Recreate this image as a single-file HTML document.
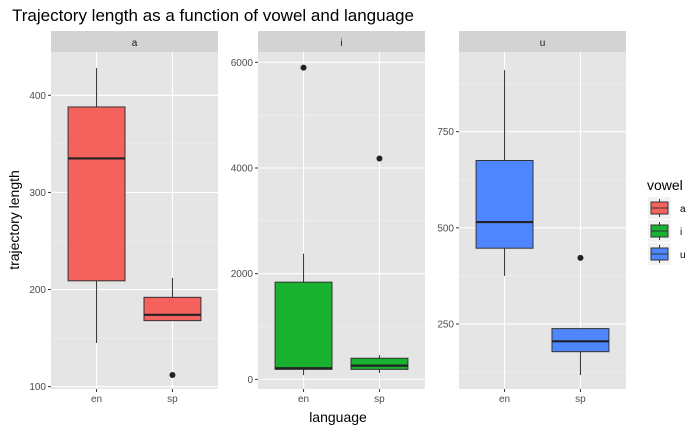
<!DOCTYPE html>
<html><head><meta charset="utf-8"><style>
body{margin:0;background:#fff;}
svg{font-family:"Liberation Sans",Arial,sans-serif;display:block;}
</style></head><body>
<svg id="chart" width="700" height="432" xmlns="http://www.w3.org/2000/svg">
<text x="12" y="21" font-size="17" fill="#000">Trajectory length as a function of vowel and language</text>
<text transform="translate(19,220) rotate(-90)" text-anchor="middle" font-size="14" fill="#000">trajectory length</text>
<text x="338" y="422" text-anchor="middle" font-size="14" fill="#000">language</text>
<g id="panels"></g>
<g>
<text x="647" y="190" font-size="14" fill="#000">vowel</text>
<g id="legend"></g>
</g>
</svg>
<script>
const vowels = ["a","i","u"];
const languages = ["en","sp"];
const fills = ["#F5615C","#19B22F","#4E86FF"];
// per vowel: [en, sp] five-number summaries [low, q1, median, q3, high]
const statsA = [[145,209,335,388,428],[168,168,174,192,212]];
const statsI = [[80,190,210,1840,2380],[120,190,260,400,460]];
const statsU = [[375,447,515,675,910],[117,178,205,238,238]];
const outliersA = [[],[112]];
const outliersI = [[5900],[4180]];
const outliersU = [[],[422]];
const ticksA = [100,200,300,400];
const ticksI = [0,2000,4000,6000];
const ticksU = [250,500,750];
const domainsA = [97.6,444.6];
const domainsI = [-182,6195];
const domainsU = [81,957];

const NS="http://www.w3.org/2000/svg";
const root=document.getElementById('panels');
function el(tag,attrs,parent){const e=document.createElementNS(NS,tag);for(const k in attrs)e.setAttribute(k,attrs[k]);(parent||root).appendChild(e);return e;}
const panelX=[51,258,459], W=167, plotTop=52, plotBot=389;
const stats=[statsA,statsI,statsU], outs=[outliersA,outliersI,outliersU], ticks=[ticksA,ticksI,ticksU], doms=[domainsA,domainsI,domainsU];
vowels.forEach((v,p)=>{
  const x0=panelX[p];
  const g=el('g',{});
  
  
  const d0=doms[p][0], d1=doms[p][1];
  const y=val=>plotBot-(val-d0)/(d1-d0)*(plotBot-plotTop);
  const xs=i=>x0+((i+1)-0.4)/2.2*W;
  const bg=el('rect',{x:x0,y:plotTop,width:W,height:plotBot-plotTop,fill:'#E5E5E5'},g);
  
  
  const strip=el('rect',{x:x0,y:31,width:W,height:21,fill:'#D3D3D3'},g);
  
  
  const st=el('text',{x:x0+W/2,y:46,'text-anchor':'middle','font-size':'10',fill:'#1A1A1A'},g);st.textContent=v;
  
  
  const t=ticks[p];
  const step=t[1]-t[0];
  const minors=[];
  for(let k=-1;k<t.length;k++){const m=t[0]+step*(k+0.5);if(m>d0&&m<d1)minors.push(m);}
  minors.forEach(m=>el('line',{x1:x0,x2:x0+W,y1:y(m),y2:y(m),stroke:'#F2F2F2','stroke-width':0.6},g));
  t.forEach(tv=>{
    el('line',{x1:x0,x2:x0+W,y1:y(tv),y2:y(tv),stroke:'#fff','stroke-width':1.1},g);
    el('line',{x1:x0-3,x2:x0,y1:y(tv),y2:y(tv),stroke:'#333','stroke-width':1},g);
    const tl=el('text',{x:x0-5,y:y(tv)+3.5,'text-anchor':'end','font-size':'10',fill:'#4D4D4D'},g);tl.textContent=tv;
    
    
  });
  languages.forEach((l,i)=>{
    const cx=xs(i);
    el('line',{x1:cx,x2:cx,y1:plotTop,y2:plotBot,stroke:'#fff','stroke-width':1.1},g);
    el('line',{x1:cx,x2:cx,y1:plotBot,y2:plotBot+3,stroke:'#333','stroke-width':1},g);
    const xl=el('text',{x:cx,y:plotBot+13,'text-anchor':'middle','font-size':'10',fill:'#4D4D4D'},g);xl.textContent=l;
    
    
  });
  languages.forEach((l,i)=>{
    const s=stats[p][i], cx=xs(i), bw=0.75/2.2*W;
    const bg2=el('g',{},g);
    
    
    el('line',{x1:cx,x2:cx,y1:y(s[0]),y2:y(s[4]),stroke:'#333','stroke-width':1},bg2);
    el('rect',{x:cx-bw/2,y:y(s[3]),width:bw,height:y(s[1])-y(s[3]),fill:fills[p],stroke:'#333','stroke-width':1},bg2);
    el('line',{x1:cx-bw/2,x2:cx+bw/2,y1:y(s[2]),y2:y(s[2]),stroke:'#222','stroke-width':2.2},bg2);
    outs[p][i].forEach(o=>{
      const c=el('circle',{cx:cx,cy:y(o),r:3,fill:'#222'},bg2);
      
      
    });
  });
});
const lg=document.getElementById('legend');
vowels.forEach((v,i)=>{
  const ky=197+i*23;
  const g=el('g',{},lg);
  
  
  el('rect',{x:648,y:ky,width:23,height:22,fill:'#F2F2F2'},g);
  el('line',{x1:659.5,x2:659.5,y1:ky+2,y2:ky+20,stroke:'#333','stroke-width':1},g);
  el('rect',{x:651,y:ky+5,width:17,height:12,fill:fills[i],stroke:'#333','stroke-width':1},g);
  el('line',{x1:651,x2:668,y1:ky+11,y2:ky+11,stroke:'#333','stroke-width':1},g);
  const tx=el('text',{x:680,y:ky+15,'font-size':'10',fill:'#000'},g);tx.textContent=v;
});
</script>
</body></html>
